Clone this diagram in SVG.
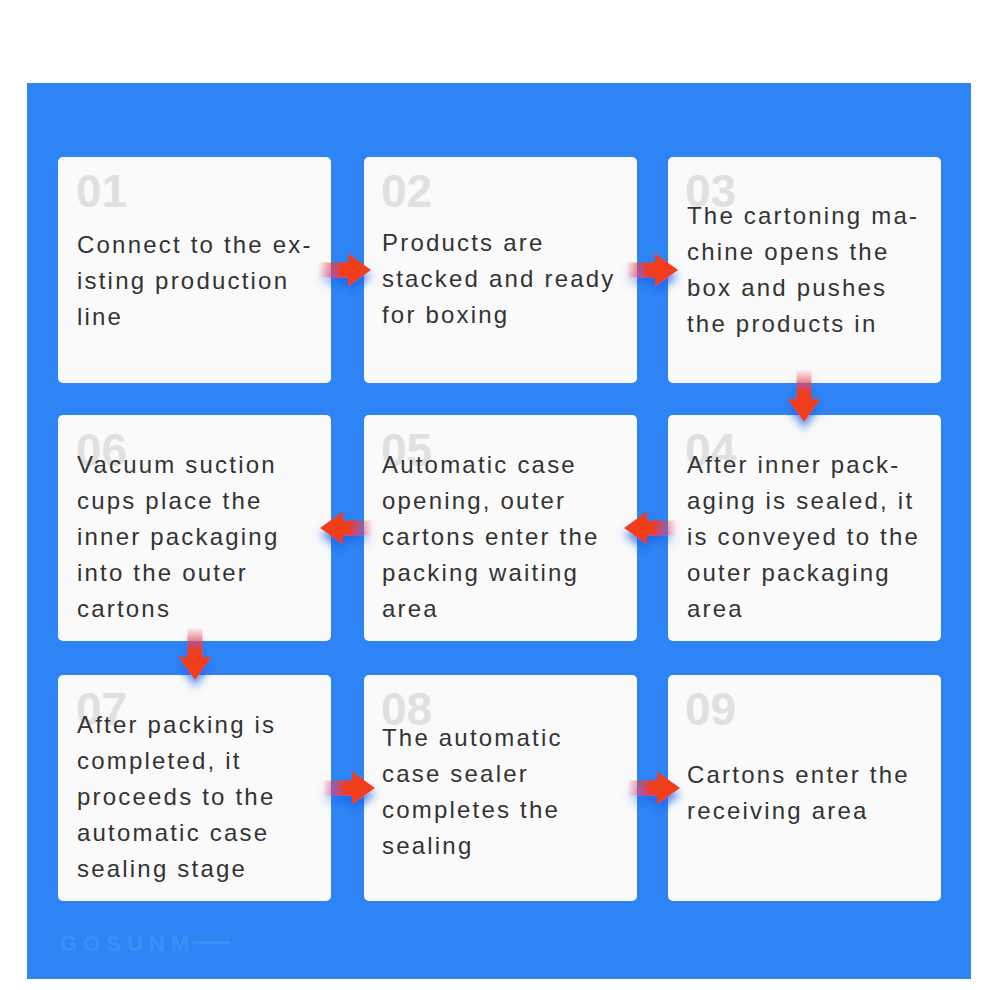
<svg xmlns="http://www.w3.org/2000/svg" width="1000" height="990" viewBox="0 0 1000 990">
<defs>
<style>
.card{fill:#fafafa}
.num{font-family:"Liberation Sans",Arial,sans-serif;font-weight:bold;font-size:46px;fill:#e0e0e0}
.txt{font-family:"Liberation Sans",Arial,sans-serif;font-size:24px;fill:#333333;letter-spacing:2.2px}
.wm{font-family:"Liberation Sans",Arial,sans-serif;font-weight:bold;font-size:22px;fill:#3f8ef6;letter-spacing:6px}
</style>
<linearGradient id="shaft" x1="0" y1="0" x2="1" y2="0">
<stop offset="0" stop-color="#f03c1e" stop-opacity="0"/>
<stop offset="0.75" stop-color="#f03c1e" stop-opacity="1"/>
</linearGradient>
<filter id="glow" x="-50%" y="-50%" width="200%" height="200%">
<feGaussianBlur in="SourceAlpha" stdDeviation="4"/>
<feOffset dy="7" result="b"/>
<feFlood flood-color="#1a5ee8" flood-opacity="0.7"/>
<feComposite in2="b" operator="in"/>
<feMerge><feMergeNode/><feMergeNode in="SourceGraphic"/></feMerge>
</filter>
<g id="arrow">
<rect x="0" y="-7.5" width="31" height="15" fill="url(#shaft)"/>
<polygon points="30,-16.5 53,0 30,16.5" fill="#f03c1e"/>
</g>
</defs>
<rect width="1000" height="990" fill="#ffffff"/>
<rect x="27" y="83" width="944" height="896" fill="#2f84f5"/>
<g id="watermark">
<text class="wm" x="60" y="951">GOSUNM</text>
<polygon points="193,941 231,941 230,944 193,944" fill="#3f8ef6"/>
</g>
<g id="n01"><rect class="card" x="58" y="157" width="273" height="226" rx="5"/>
<text class="num" x="76" y="207">01</text>
<text class="txt"><tspan x="77" y="253">Connect to the ex-</tspan><tspan x="77" y="289">isting production</tspan><tspan x="77" y="325">line</tspan></text></g>
<g id="n02"><rect class="card" x="364" y="157" width="273" height="226" rx="5"/>
<text class="num" x="381" y="207">02</text>
<text class="txt"><tspan x="382" y="251">Products are</tspan><tspan x="382" y="287">stacked and ready</tspan><tspan x="382" y="323">for boxing</tspan></text></g>
<g id="n03"><rect class="card" x="668" y="157" width="273" height="226" rx="5"/>
<text class="num" x="685" y="207">03</text>
<text class="txt"><tspan x="687" y="224">The cartoning ma-</tspan><tspan x="687" y="260">chine opens the</tspan><tspan x="687" y="296">box and pushes</tspan><tspan x="687" y="332">the products in</tspan></text></g>
<g id="n04"><rect class="card" x="668" y="415" width="273" height="226" rx="5"/>
<text class="num" x="685" y="466">04</text>
<text class="txt"><tspan x="687" y="473">After inner pack-</tspan><tspan x="687" y="509">aging is sealed, it</tspan><tspan x="687" y="545">is conveyed to the</tspan><tspan x="687" y="581">outer packaging</tspan><tspan x="687" y="617">area</tspan></text></g>
<g id="n05"><rect class="card" x="364" y="415" width="273" height="226" rx="5"/>
<text class="num" x="381" y="466">05</text>
<text class="txt"><tspan x="382" y="473">Automatic case</tspan><tspan x="382" y="509">opening, outer</tspan><tspan x="382" y="545">cartons enter the</tspan><tspan x="382" y="581">packing waiting</tspan><tspan x="382" y="617">area</tspan></text></g>
<g id="n06"><rect class="card" x="58" y="415" width="273" height="226" rx="5"/>
<text class="num" x="76" y="466">06</text>
<text class="txt"><tspan x="77" y="473">Vacuum suction</tspan><tspan x="77" y="509">cups place the</tspan><tspan x="77" y="545">inner packaging</tspan><tspan x="77" y="581">into the outer</tspan><tspan x="77" y="617">cartons</tspan></text></g>
<g id="n07"><rect class="card" x="58" y="675" width="273" height="226" rx="5"/>
<text class="num" x="76" y="725">07</text>
<text class="txt"><tspan x="77" y="733">After packing is</tspan><tspan x="77" y="769">completed, it</tspan><tspan x="77" y="805">proceeds to the</tspan><tspan x="77" y="841">automatic case</tspan><tspan x="77" y="877">sealing stage</tspan></text></g>
<g id="n08"><rect class="card" x="364" y="675" width="273" height="226" rx="5"/>
<text class="num" x="381" y="725">08</text>
<text class="txt"><tspan x="382" y="746">The automatic</tspan><tspan x="382" y="782">case sealer</tspan><tspan x="382" y="818">completes the</tspan><tspan x="382" y="854">sealing</tspan></text></g>
<g id="n09"><rect class="card" x="668" y="675" width="273" height="226" rx="5"/>
<text class="num" x="685" y="725">09</text>
<text class="txt"><tspan x="687" y="783">Cartons enter the</tspan><tspan x="687" y="819">receiving area</tspan></text></g>
<g id="connectors">
<g filter="url(#glow)"><use href="#arrow" transform="translate(318,270)"/></g>
<g filter="url(#glow)"><use href="#arrow" transform="translate(625,270)"/></g>
<g filter="url(#glow)"><use href="#arrow" transform="translate(804,369) rotate(90)"/></g>
<g filter="url(#glow)"><use href="#arrow" transform="translate(677,528) rotate(180)"/></g>
<g filter="url(#glow)"><use href="#arrow" transform="translate(373,528) rotate(180)"/></g>
<g filter="url(#glow)"><use href="#arrow" transform="translate(195,627) rotate(90)"/></g>
<g filter="url(#glow)"><use href="#arrow" transform="translate(322,788)"/></g>
<g filter="url(#glow)"><use href="#arrow" transform="translate(627,788)"/></g>
</g>
</svg>
